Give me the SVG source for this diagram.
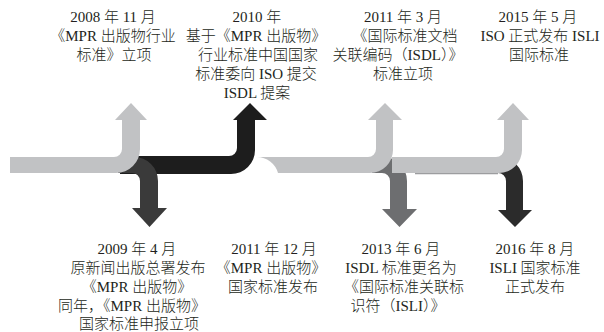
<svg xmlns="http://www.w3.org/2000/svg" width="604" height="332" viewBox="0 0 604 332">
<style>
.t{font-family:"Liberation Serif","Noto Sans CJK SC",serif;font-size:15px;font-weight:300;fill:#231f20;text-anchor:middle}
.lg{fill:#c1c2c4}
.bk{fill:#1d1d1d}
.dg{fill:#3a3a3a}
.mg{fill:#6d6e70}
.rd{fill:#2b2b2b}
</style>
<rect width="604" height="332" fill="#ffffff"/>
<g id="connectors">
<path class="bk" d="M120,156 H229 A8,8 0 0 0 237,148 V120 H233 L250,103 L267,120 H255 V150 A24,24 0 0 1 231,174 H120 Z"/>
<path class="dg" d="M118,157 H134 A24,24 0 0 1 158,181 V208 H167 L149.5,227 L132,208 H140 V181 A8,8 0 0 0 132,173 H118 Z"/>
<path class="lg" d="M10,157 H114 A8,8 0 0 0 122,149 V120 H115 L131,103 L147,120 H140 V149 A24,24 0 0 1 116,173 H10 Z"/>
<path class="mg" d="M372,157 H383 A24,24 0 0 1 407,181 V209 H417 L399.5,227 L382,209 H390 V181 A8,8 0 0 0 382,173 H372 Z"/>
<path class="lg" d="M257,157 H368 A8,8 0 0 0 376,149 V120 H368 L385,103 L402,120 H393 V150 A23,23 0 0 1 370,173 H278 A22,22 0 0 0 257,157 Z"/>
<path class="rd" d="M494,157 H499 A24,24 0 0 1 523,181 V210 H532 L515,227 L498,210 H506 V181 A8,8 0 0 0 498,173 H494 Z"/>
<path class="lg" d="M392,157 H496 A8,8 0 0 0 504,149 V120 H497 L513,103 L529,120 H522 V150 A23,23 0 0 1 499,173 H392 Z"/>
<line x1="415" y1="173.6" x2="498" y2="173.6" stroke="#9c9d9f" stroke-width="1.4"/>
</g>
<g id="n2008">
<text class="t" x="113" y="22">2008 年 11 月</text>
<text class="t" x="113" y="41">《MPR 出版物行业</text>
<text class="t" x="114" y="60">标准》立项</text>
</g>
<g id="n2010">
<text class="t" x="257" y="22">2010 年</text>
<text class="t" x="256" y="41">基于《MPR 出版物》</text>
<text class="t" x="258" y="60">行业标准中国国家</text>
<text class="t" x="256" y="79">标准委向 ISO 提交</text>
<text class="t" x="257" y="98">ISDL 提案</text>
</g>
<g id="n2011a">
<text class="t" x="403" y="22">2011 年 3 月</text>
<text class="t" x="405" y="41">《国际标准文档</text>
<text class="t" x="398" y="60">关联编码（ISDL）》</text>
<text class="t" x="403" y="79">标准立项</text>
</g>
<g id="n2015">
<text class="t" x="538" y="22">2015 年 5 月</text>
<text class="t" x="540" y="41">ISO 正式发布 ISLI</text>
<text class="t" x="539" y="60">国际标准</text>
</g>
<g id="n2009">
<text class="t" x="137" y="254">2009 年 4 月</text>
<text class="t" x="138" y="273">原新闻出版总署发布</text>
<text class="t" x="137" y="292">《MPR 出版物》</text>
<text class="t" x="132" y="311">同年，《MPR 出版物》</text>
<text class="t" x="139" y="329">国家标准申报立项</text>
</g>
<g id="n2011b">
<text class="t" x="274" y="254">2011 年 12 月</text>
<text class="t" x="271" y="273">《MPR 出版物》</text>
<text class="t" x="273" y="292">国家标准发布</text>
</g>
<g id="n2013">
<text class="t" x="401" y="254">2013 年 6 月</text>
<text class="t" x="401" y="273">ISDL 标准更名为</text>
<text class="t" x="404" y="292">《国际标准关联标</text>
<text class="t" x="398" y="311">识符（ISLI）》</text>
</g>
<g id="n2016">
<text class="t" x="535" y="254">2016 年 8 月</text>
<text class="t" x="535" y="273">ISLI 国家标准</text>
<text class="t" x="535" y="292">正式发布</text>
</g>
</svg>
